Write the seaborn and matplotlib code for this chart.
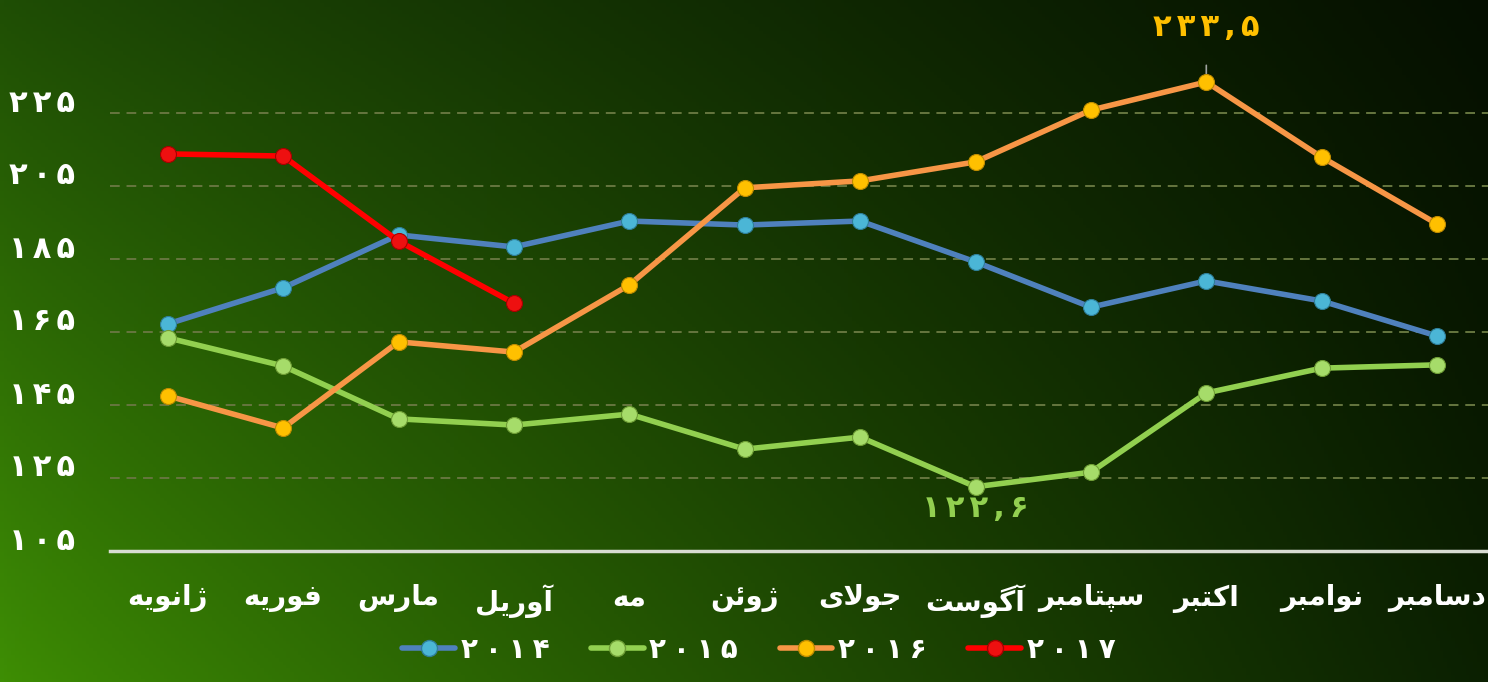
import matplotlib
matplotlib.use("Agg")
import matplotlib.pyplot as plt
import matplotlib.transforms as mtransforms
from matplotlib.lines import Line2D
import numpy as np
import pandas as pd
import seaborn as sns

# --- data ---
months = ["ژانویه", "فوریه", "مارس", "آوریل", "مه", "ژوئن",
          "جولای", "آگوست", "سپتامبر", "اکتبر", "نوامبر", "دسامبر"]
years = ["2014", "2015", "2016", "2017"]
vals_2014 = [167.2, 177.1, 191.6, 188.3, 195.4, 194.3, 195.4, 184.2, 171.8, 179.0, 173.5, 163.9]
vals_2015 = [163.4, 155.7, 141.2, 139.5, 142.5, 132.9, 136.2, 122.6, 126.6, 148.3, 155.1, 156.0]
vals_2016 = [147.5, 138.7, 162.3, 159.5, 177.9, 204.5, 206.4, 211.6, 225.8, 233.5, 212.9, 194.6]
vals_2017 = [213.8, 213.2, 189.9, 172.9]
y_ticks = [105, 125, 145, 165, 185, 205, 225]

line_colors = ["#4f81bd", "#92d050", "#f79646", "#ff0000"]
face_colors = ["#4bb6d6", "#a6dc6a", "#ffc000", "#ee1010"]
edge_colors = ["#2f7f9a", "#6f9e36", "#c08c00", "#a80000"]

# --- minimal Persian shaping (matplotlib does no bidi / joining) ---
FORMS = {  # iso, fin, ini, med
    "ا": ("\uFE8D", "\uFE8E"), "آ": ("\uFE81", "\uFE82"),
    "د": ("\uFEA9", "\uFEAA"), "ر": ("\uFEAD", "\uFEAE"),
    "ژ": ("\uFB8A", "\uFB8B"), "و": ("\uFEED", "\uFEEE"),
    "ن": ("\uFEE5", "\uFEE6", "\uFEE7", "\uFEE8"),
    "ی": ("\uFBFC", "\uFBFD", "\uFBFE", "\uFBFF"),
    "ه": ("\uFEE9", "\uFEEA", "\uFEEB", "\uFEEC"),
    "ف": ("\uFED1", "\uFED2", "\uFED3", "\uFED4"),
    "م": ("\uFEE1", "\uFEE2", "\uFEE3", "\uFEE4"),
    "س": ("\uFEB1", "\uFEB2", "\uFEB3", "\uFEB4"),
    "ل": ("\uFEDD", "\uFEDE", "\uFEDF", "\uFEE0"),
    "ئ": ("\uFE89", "\uFE8A", "\uFE8B", "\uFE8C"),
    "ج": ("\uFE9D", "\uFE9E", "\uFE9F", "\uFEA0"),
    "گ": ("\uFB92", "\uFB93", "\uFB94", "\uFB95"),
    "ت": ("\uFE95", "\uFE96", "\uFE97", "\uFE98"),
    "پ": ("\uFB56", "\uFB57", "\uFB58", "\uFB59"),
    "ب": ("\uFE8F", "\uFE90", "\uFE91", "\uFE92"),
    "ک": ("\uFB8E", "\uFB8F", "\uFB90", "\uFB91"),
}
LAM_ALEF = {"ا": ("\uFEFB", "\uFEFC"), "آ": ("\uFEF5", "\uFEF6")}


def shape(word):
    chars = list(word)
    out = []
    i = 0
    while i < len(chars):
        c = chars[i]
        prev_joins = (i > 0 and len(FORMS.get(chars[i - 1], ())) == 4
                      and out[-1] not in ("\uFEFB", "\uFEFC", "\uFEF5", "\uFEF6"))
        if c == "ل" and i + 1 < len(chars) and chars[i + 1] in LAM_ALEF:
            out.append(LAM_ALEF[chars[i + 1]][1 if prev_joins else 0])
            i += 2
            continue
        f = FORMS.get(c)
        if f is None:
            out.append(c)
            i += 1
            continue
        next_ok = len(f) == 4 and i + 1 < len(chars) and chars[i + 1] in FORMS
        if prev_joins and next_ok:
            out.append(f[3])
        elif prev_joins:
            out.append(f[1])
        elif next_ok:
            out.append(f[2])
        else:
            out.append(f[0])
        i += 1
    return "".join(reversed(out))


def fa_num(s, sep="\u2006"):
    return sep.join(chr(0x06F0 + int(ch)) if ch.isdigit() else ch for ch in str(s))


# --- frame ---
df = pd.DataFrame({"month": np.arange(len(months))})
series = [vals_2014, vals_2015, vals_2016, vals_2017]

sns.set_theme(style="white")
plt.rcParams["font.family"] = ["DejaVu Sans"]
fig = plt.figure(figsize=(14.88, 6.82), dpi=100)

# background gradient
bg = fig.add_axes([0, 0, 1, 1], zorder=-10)
H, W = 200, 400
yy, xx = np.mgrid[0:1:H * 1j, 0:1:W * 1j]
sx = xx ** 0.85
tl, tr = np.array([31, 78, 5]), np.array([5, 15, 0])
bl, br = np.array([62, 142, 4]), np.array([11, 32, 1])
top = tl[None, None, :] * (1 - sx[..., None]) + tr[None, None, :] * sx[..., None]
bot = bl[None, None, :] * (1 - sx[..., None]) + br[None, None, :] * sx[..., None]
img = top * (1 - yy[..., None]) + bot * yy[..., None]
bg.imshow(img / 255.0, aspect="auto", extent=[0, 1, 0, 1], origin="upper")
bg.axis("off")

ax = fig.add_axes([110 / 1488, 131 / 682, 1 - 110 / 1488, 551 / 682])
ax.patch.set_alpha(0)

for k, vals in enumerate(series):
    sns.lineplot(x=df["month"][:len(vals)], y=vals, ax=ax, color=line_colors[k],
                 linewidth=4.0, marker="o", markersize=11.5,
                 markerfacecolor=face_colors[k], markeredgecolor=edge_colors[k],
                 markeredgewidth=0.8, zorder=3 + k)

ax.set_xlim(-0.5, -0.5 + 1378 / 115.4)
ax.set_ylim(105, 105 + 551 / 3.65)

for v in y_ticks[1:]:
    ax.axhline(v, color="#66763f", lw=1.4, ls=(0, (5, 3.5)), zorder=1)

for s in ["top", "right", "left"]:
    ax.spines[s].set_visible(False)
ax.spines["bottom"].set_color("#d8dcd2")
ax.spines["bottom"].set_linewidth(2.5)

ax.set_yticks(y_ticks)
ax.set_yticklabels([fa_num(v) for v in y_ticks], fontsize=22, fontweight="bold", color="white")
ax.tick_params(axis="y", length=0, pad=25)
off = mtransforms.ScaledTranslation(0, 13 / 100, fig.dpi_scale_trans)
for lab in ax.get_yticklabels():
    lab.set_transform(lab.get_transform() + off)

ax.set_xticks(df["month"])
ax.set_xticklabels([shape(m) for m in months], fontsize=20, fontweight="bold", color="white")
ax.tick_params(axis="x", length=0, pad=24)
ax.set_xlabel("")
ax.set_ylabel("")

# value labels
i_max = int(np.argmax(vals_2016))
ax.annotate("", xy=(i_max, vals_2016[i_max]), xytext=(0, 12), textcoords="offset points",
            arrowprops=dict(arrowstyle="-", color="#a0a4a0", lw=1.2, shrinkA=0, shrinkB=0), zorder=2)
ax.annotate(fa_num("233,5"), xy=(i_max, vals_2016[i_max]), xytext=(0, 39), textcoords="offset points",
            ha="center", va="center", fontsize=22, fontweight="bold", color="#ffc000")
i_min = int(np.argmin(vals_2015))
ax.annotate(fa_num("122,6"), xy=(i_min, vals_2015[i_min]), xytext=(0, -16), textcoords="offset points",
            ha="center", va="center", fontsize=22, fontweight="bold", color="#92d050")

handles = [Line2D([], [], color=line_colors[k], lw=4.0, marker="o", markersize=11.5,
                  markerfacecolor=face_colors[k], markeredgecolor=edge_colors[k])
           for k in range(len(years))]
fig.legend(handles, [fa_num(y, "\u2005") for y in years], loc="lower center", bbox_to_anchor=(0.51, -0.01),
           ncol=4, frameon=False, handlelength=1.9, columnspacing=1.5, handletextpad=0.2,
           prop=dict(size=20, weight="bold"), labelcolor="white")

fig.savefig("out.png", dpi=100)
